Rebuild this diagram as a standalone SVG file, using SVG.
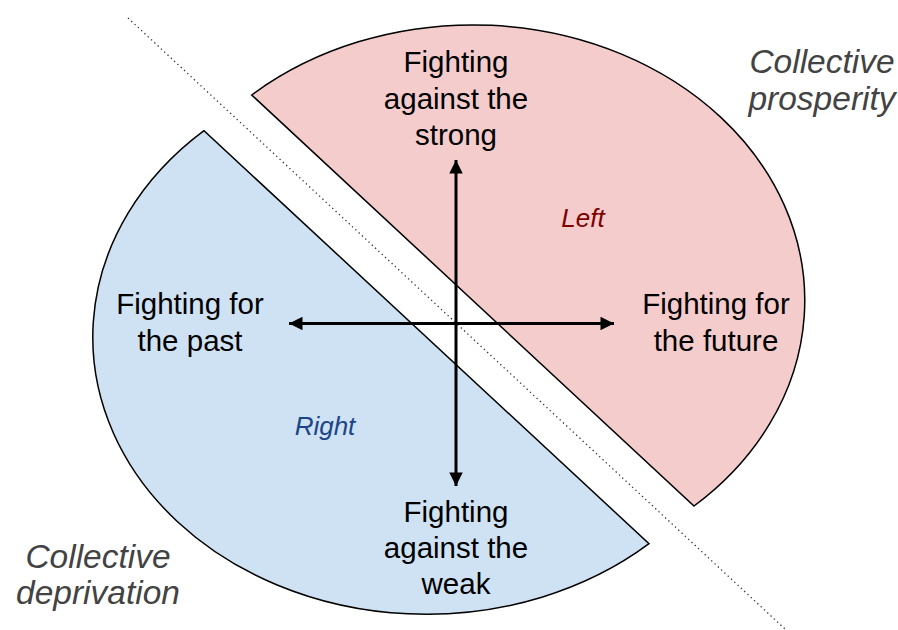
<svg xmlns="http://www.w3.org/2000/svg" width="898" height="630" viewBox="0 0 898 630">
  <defs>
    <marker id="ah" viewBox="0 0 10 10" refX="10" refY="5" markerWidth="5.5" markerHeight="4.5" markerUnits="strokeWidth" orient="auto-start-reverse">
      <path d="M0,0 L10,5 L0,10 Z" fill="#000"/>
    </marker>
    <style>
      .lbl { font-family: "Liberation Sans", Arial, sans-serif; font-size: 29.5px; fill: #000; text-anchor: middle; }
      .side { font-family: "Liberation Sans", Arial, sans-serif; font-size: 26px; font-style: italic; text-anchor: middle; }
      .coll { font-family: "Liberation Sans", Arial, sans-serif; font-size: 33.5px; font-style: italic; fill: #434343; text-anchor: middle; }
      .half { stroke: #000; stroke-width: 1.5; stroke-linejoin: miter; }
      .axis { stroke: #000; stroke-width: 3; fill: none; }
    </style>
  </defs>
  <rect width="898" height="630" fill="#fff"/>

  <g id="left-half">
    <path class="half" fill="#f4cccc" d="M251.7,95 A330,274 0 1 1 694,506 Z"/>
    <text class="side" x="583" y="227" fill="#7f0000">Left</text>
  </g>
  <g id="right-half">
    <path class="half" fill="#cfe2f3" d="M204,130.7 A330,274 0 1 0 649,543.7 Z"/>
    <text class="side" x="325" y="435" fill="#1c4587">Right</text>
  </g>

  <g id="connectors">
    <line x1="128" y1="18" x2="785" y2="629" stroke="#333" stroke-width="1.3" stroke-dasharray="1.3,3.2"/>
    <line class="axis" x1="456" y1="486" x2="456" y2="160" marker-end="url(#ah)" marker-start="url(#ah)"/>
    <line class="axis" x1="289" y1="323.5" x2="614" y2="323.5" marker-end="url(#ah)" marker-start="url(#ah)"/>
  </g>

  <g id="node-strong">
    <text class="lbl" x="456" y="72">Fighting</text>
    <text class="lbl" x="456" y="108.5">against the</text>
    <text class="lbl" x="456" y="145">strong</text>
  </g>
  <g id="node-weak">
    <text class="lbl" x="456" y="521.7">Fighting</text>
    <text class="lbl" x="456" y="558.3">against the</text>
    <text class="lbl" x="456" y="594">weak</text>
  </g>
  <g id="node-past">
    <text class="lbl" x="190" y="314">Fighting for</text>
    <text class="lbl" x="190" y="351">the past</text>
  </g>
  <g id="node-future">
    <text class="lbl" x="716" y="314">Fighting for</text>
    <text class="lbl" x="716" y="351">the future</text>
  </g>
  <g id="node-prosperity">
    <text class="coll" x="822" y="73">Collective</text>
    <text class="coll" x="822" y="110">prosperity</text>
  </g>
  <g id="node-deprivation">
    <text class="coll" x="98" y="567.7">Collective</text>
    <text class="coll" x="98" y="604.3">deprivation</text>
  </g>
</svg>
